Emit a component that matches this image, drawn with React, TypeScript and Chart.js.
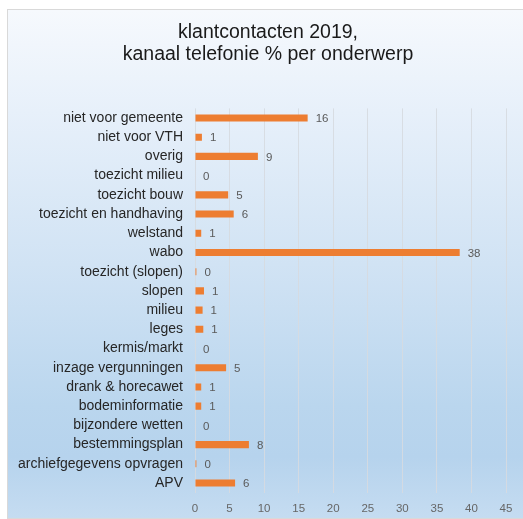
import React, { useEffect, useRef } from "react";
import { Chart, registerables } from "chart.js";

Chart.register(...registerables);

const titleLines = ["klantcontacten 2019,", "kanaal telefonie % per onderwerp"];

const categories = [
  "niet voor gemeente",
  "niet voor VTH",
  "overig",
  "toezicht milieu",
  "toezicht bouw",
  "toezicht en handhaving",
  "welstand",
  "wabo",
  "toezicht (slopen)",
  "slopen",
  "milieu",
  "leges",
  "kermis/markt",
  "inzage vergunningen",
  "drank & horecawet",
  "bodeminformatie",
  "bijzondere wetten",
  "bestemmingsplan",
  "archiefgegevens opvragen",
  "APV",
];

const values = [
  16.3, 1.0, 9.1, 0, 4.8, 5.6, 0.9, 38.3, 0.2, 1.3, 1.1, 1.2, 0, 4.5, 0.9, 0.9, 0, 7.8, 0.2, 5.8,
];

const xTicks = [0, 5, 10, 15, 20, 25, 30, 35, 40, 45];

const FONT = "'Liberation Sans', Arial, sans-serif";

const labelPlugin = {
  id: "barLabels",
  afterDatasetsDraw(chart: any) {
    const ctx = chart.ctx;
    const meta = chart.getDatasetMeta(0);
    ctx.save();
    ctx.font = `11.5px ${FONT}`;
    ctx.fillStyle = "#5a5a5a";
    ctx.textAlign = "left";
    ctx.textBaseline = "middle";
    meta.data.forEach((bar: any, i: number) => {
      const v = values[i];
      ctx.fillText(String(Math.round(v)), bar.x + 8, bar.y + 1);
    });
    ctx.restore();
  },
};

const titlePlugin = {
  id: "customTitle",
  afterDraw(chart: any) {
    const ctx = chart.ctx;
    ctx.save();
    ctx.font = `19.5px ${FONT}`;
    ctx.fillStyle = "#1a1a1a";
    ctx.textAlign = "center";
    ctx.textBaseline = "middle";
    ctx.fillText(titleLines[0], 268, 33);
    ctx.fillText(titleLines[1], 268, 55);
    ctx.restore();
  },
};

export default function App() {
  const ref = useRef<HTMLCanvasElement | null>(null);

  useEffect(() => {
    if (!ref.current) return;
    const chart = new Chart(ref.current, {
      type: "bar",
      data: {
        labels: categories,
        datasets: [
          {
            data: values,
            backgroundColor: "#ED7D31",
            borderWidth: 0,
            categoryPercentage: 1,
            barPercentage: 0.37,
          },
        ],
      },
      options: {
        indexAxis: "y",
        animation: false,
        responsive: false,
        maintainAspectRatio: false,
        layout: { padding: { top: 108.4, right: 17, bottom: 0, left: 0 } },
        plugins: {
          legend: { display: false },
          title: { display: false },
          tooltip: { enabled: false },
        },
        scales: {
          x: {
            min: 0,
            max: 45,
            afterBuildTicks: (scale: any) => {
              scale.ticks = xTicks.map((v) => ({ value: v }));
            },
            afterFit: (scale: any) => {
              scale.height = 26.4;
            },
            grid: {
              color: "rgba(214,218,224,0.9)",
              lineWidth: 1,
              drawTicks: false,
            },
            border: { display: false },
            ticks: {
              padding: 9,
              color: "#666666",
              font: { family: FONT, size: 11.5 },
            },
          },
          y: {
            afterFit: (scale: any) => {
              scale.width = 195;
            },
            grid: { display: false, drawTicks: false },
            border: { display: false },
            ticks: {
              padding: 12,
              color: "#262626",
              font: { family: FONT, size: 14 },
              autoSkip: false,
            },
          },
        },
      },
      plugins: [labelPlugin, titlePlugin],
    });
    return () => chart.destroy();
  }, []);

  return (
    <div
      style={{
        position: "fixed",
        left: 0,
        top: 0,
        width: 523,
        height: 519,
        background: "#ffffff",
        overflow: "hidden",
      }}
    >
      <div
        style={{
          position: "absolute",
          left: 7,
          top: 9,
          width: 530,
          height: 508,
          border: "1px solid #d9d9d9",
          background:
            "linear-gradient(to bottom, #f6f9fd 0%, #e7f0fa 20%, #d1e3f4 50%, #bad6ee 78%, #b6d3ed 88%, #c5dcf1 100%)",
        }}
      />
      <canvas
        ref={ref}
        width={523}
        height={519}
        style={{ position: "absolute", left: 0, top: 0, width: 523, height: 519 }}
      />
    </div>
  );
}
